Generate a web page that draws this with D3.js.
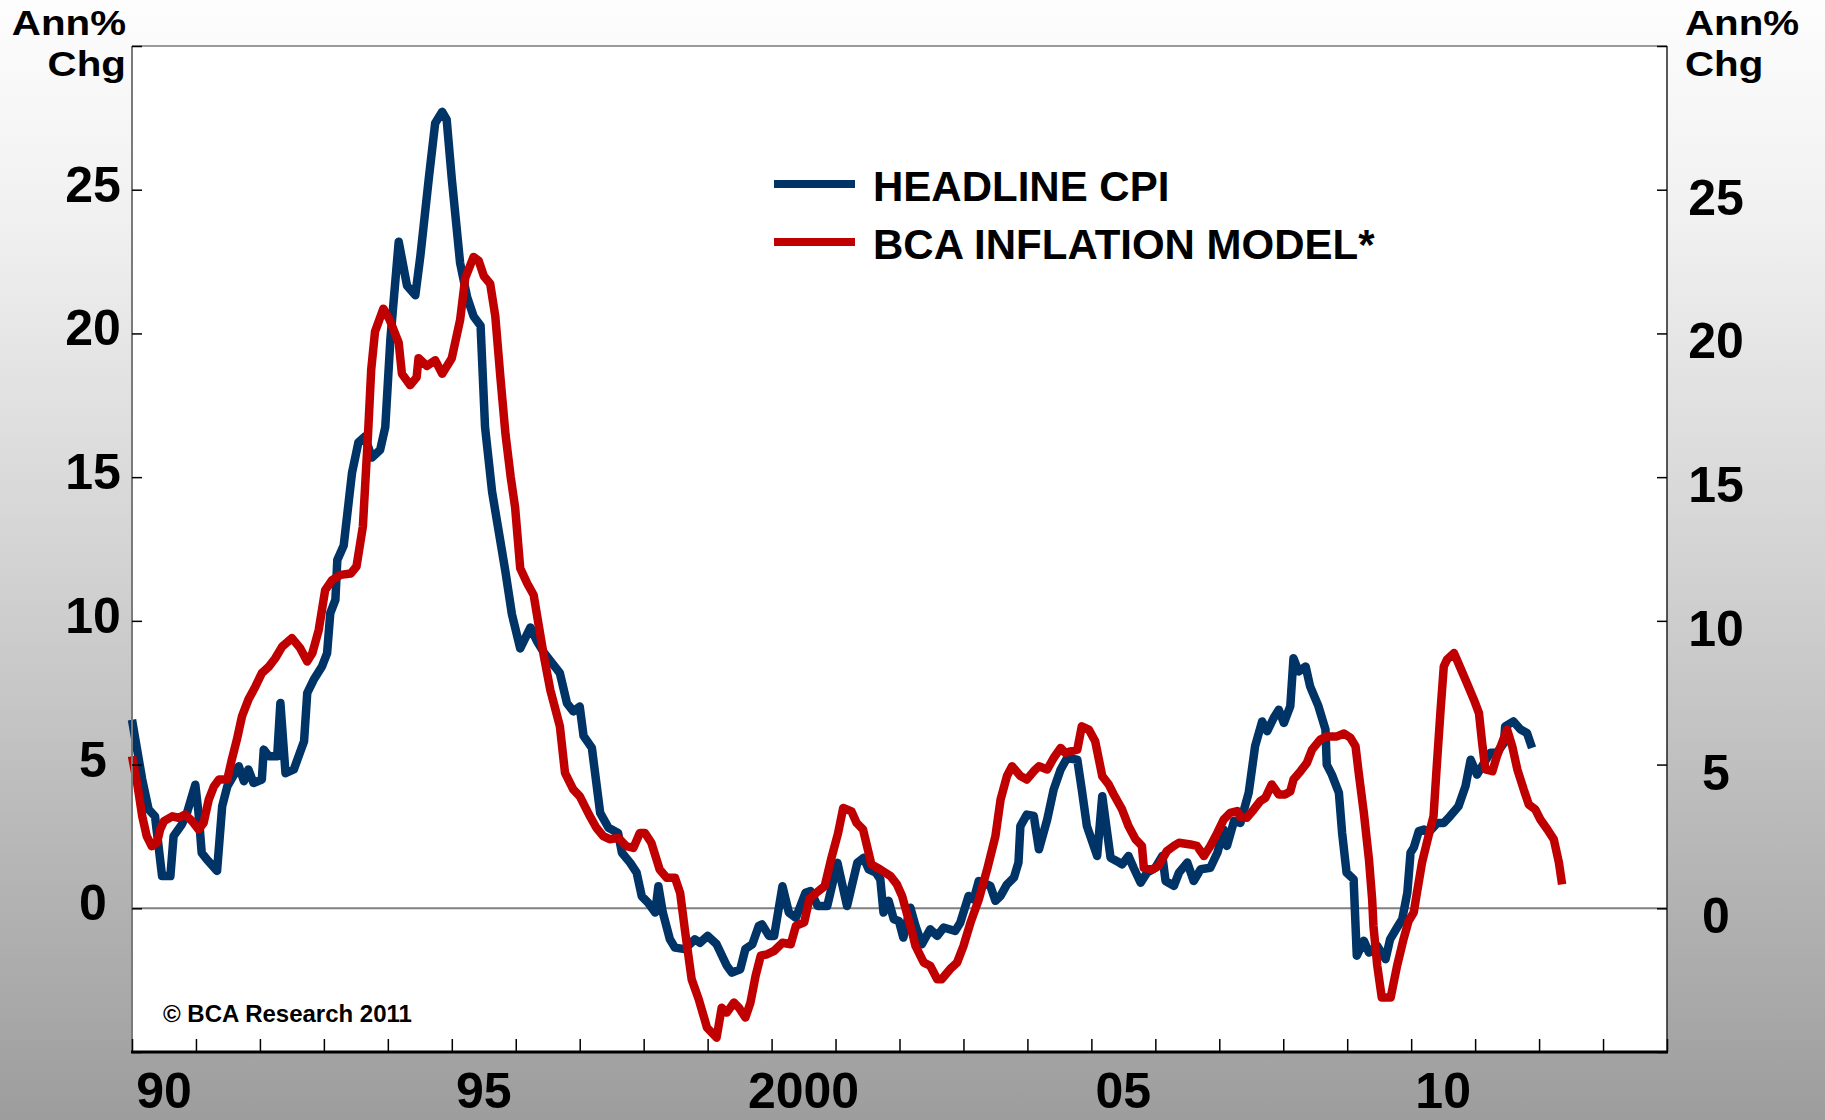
<!DOCTYPE html>
<html>
<head>
<meta charset="utf-8">
<script src="https://cdn.jsdelivr.net/npm/d3@7"></script>
<style>
  html, body { margin: 0; padding: 0; background: #ffffff; }
  svg text { font-family: "Liberation Sans", Arial, Helvetica, sans-serif; font-weight: bold; fill: #000; }
</style>
</head>
<body>
<svg id="chart" width="1825" height="1120"></svg>
<script>
// ---- DATA ----
// Headline CPI, annual % change: [decimal year, value]
const headlineCPI = [
  [1990.00,6.56],[1990.16,4.48],[1990.26,3.44],[1990.36,3.20],[1990.47,1.12],[1990.60,1.12],[1990.65,2.51],
  [1990.78,2.92],[1990.86,3.32],[1990.99,4.30],[1991.04,3.32],[1991.09,1.93],[1991.17,1.70],[1991.33,1.30],
  [1991.41,3.55],[1991.49,4.24],[1991.67,4.94],[1991.75,4.42],[1991.82,4.83],[1991.90,4.36],[1992.03,4.48],
  [1992.06,5.52],[1992.14,5.29],[1992.27,5.29],[1992.32,7.14],[1992.40,4.70],[1992.53,4.83],[1992.69,5.81],
  [1992.74,7.49],[1992.84,7.95],[1992.97,8.41],[1993.05,8.87],[1993.10,10.27],[1993.18,10.73],[1993.21,12.12],
  [1993.31,12.62],[1993.44,15.15],[1993.54,16.21],[1993.64,16.41],[1993.75,15.68],[1993.88,15.95],[1993.96,16.74],
  [1994.04,19.80],[1994.17,23.19],[1994.30,21.66],[1994.43,21.33],[1994.51,22.72],[1994.64,25.38],[1994.74,27.31],
  [1994.85,27.71],[1994.92,27.44],[1995.00,25.38],[1995.13,22.45],[1995.24,21.26],[1995.34,20.60],[1995.45,20.27],
  [1995.52,16.74],[1995.63,14.49],[1995.73,13.16],[1995.84,11.69],[1995.94,10.23],[1996.07,9.04],[1996.23,9.77],
  [1996.33,9.30],[1996.44,8.90],[1996.69,8.18],[1996.80,7.14],[1996.90,6.85],[1997.00,7.02],[1997.06,6.00],
  [1997.19,5.58],[1997.32,3.32],[1997.45,2.80],[1997.60,2.62],[1997.66,1.93],[1997.79,1.58],[1997.89,1.24],
  [1997.97,0.42],[1998.07,0.19],[1998.18,-0.15],[1998.23,0.77],[1998.30,-0.15],[1998.41,-1.08],[1998.49,-1.37],
  [1998.64,-1.42],[1998.80,-1.08],[1998.88,-1.20],[1999.00,-0.96],[1999.14,-1.25],[1999.30,-2.00],[1999.38,-2.24],
  [1999.51,-2.12],[1999.59,-1.42],[1999.70,-1.25],[1999.80,-0.61],[1999.85,-0.56],[1999.96,-0.96],[2000.04,-0.96],
  [2000.17,0.77],[2000.27,-0.15],[2000.38,-0.33],[2000.53,0.54],[2000.61,0.60],[2000.72,0.08],[2000.87,0.08],
  [2001.03,1.58],[2001.18,0.08],[2001.34,1.58],[2001.44,1.76],[2001.52,1.35],[2001.63,1.24],[2001.70,1.01],
  [2001.75,-0.15],[2001.83,0.26],[2001.91,-0.38],[2001.99,-0.44],[2002.06,-1.02],[2002.17,0.02],[2002.25,-0.61],
  [2002.35,-1.25],[2002.48,-0.73],[2002.59,-0.96],[2002.69,-0.67],[2002.87,-0.79],[2002.95,-0.50],[2003.08,0.43],
  [2003.16,0.31],[2003.24,0.95],[2003.42,0.78],[2003.50,0.26],[2003.58,0.43],[2003.68,0.83],[2003.79,1.07],
  [2003.86,1.59],[2003.89,2.86],[2003.99,3.26],[2004.10,3.21],[2004.18,2.05],[2004.31,3.09],[2004.41,4.13],
  [2004.52,4.83],[2004.62,5.23],[2004.78,5.17],[2004.85,4.13],[2004.93,2.86],[2005.09,1.82],[2005.17,3.90],
  [2005.30,1.76],[2005.40,1.64],[2005.48,1.53],[2005.58,1.82],[2005.66,1.41],[2005.77,0.89],[2005.87,1.24],
  [2006.00,1.41],[2006.11,1.82],[2006.16,0.95],[2006.29,0.78],[2006.37,1.24],[2006.50,1.59],[2006.60,0.95],
  [2006.71,1.36],[2006.86,1.41],[2006.97,1.93],[2007.07,2.74],[2007.12,2.17],[2007.23,3.03],[2007.33,2.97],
  [2007.46,4.02],[2007.56,5.64],[2007.67,6.50],[2007.75,6.16],[2007.85,6.62],[2007.93,6.91],[2008.01,6.45],
  [2008.11,7.03],[2008.16,8.70],[2008.24,8.24],[2008.35,8.41],[2008.42,7.72],[2008.55,7.03],[2008.66,6.22],
  [2008.68,5.00],[2008.76,4.65],[2008.87,4.02],[2008.92,2.63],[2008.99,1.24],[2009.10,1.01],[2009.15,-1.65],
  [2009.26,-1.13],[2009.34,-1.54],[2009.47,-1.31],[2009.60,-1.77],[2009.67,-1.08],[2009.78,-0.67],[2009.86,-0.38],
  [2009.94,0.54],[2009.99,1.93],[2010.04,2.11],[2010.12,2.69],[2010.20,2.74],[2010.27,2.63],[2010.41,2.97],
  [2010.51,2.97],[2010.61,3.21],[2010.74,3.55],[2010.85,4.25],[2010.93,5.17],[2011.03,4.65],[2011.14,5.06],
  [2011.24,5.41],[2011.34,5.41],[2011.45,5.75],[2011.47,6.33],[2011.60,6.50],[2011.71,6.22],[2011.81,6.10],
  [2011.89,5.58]
];

// BCA inflation model: [decimal year, value]
const bcaModel = [
  [1990.00,5.29],[1990.08,4.36],[1990.16,3.20],[1990.23,2.51],[1990.31,2.16],[1990.39,2.28],[1990.44,2.74],
  [1990.50,3.03],[1990.63,3.20],[1990.73,3.15],[1990.83,3.26],[1990.94,3.03],[1991.04,2.74],[1991.12,2.97],
  [1991.20,3.78],[1991.28,4.24],[1991.36,4.48],[1991.49,4.48],[1991.56,5.17],[1991.64,5.87],[1991.72,6.68],
  [1991.82,7.26],[1991.93,7.72],[1992.03,8.18],[1992.14,8.41],[1992.24,8.70],[1992.35,9.11],[1992.50,9.40],
  [1992.63,9.05],[1992.74,8.59],[1992.82,8.88],[1992.92,9.69],[1993.02,11.07],[1993.13,11.42],[1993.26,11.60],
  [1993.42,11.65],[1993.51,11.89],[1993.61,13.29],[1993.69,16.48],[1993.74,18.74],[1993.80,20.07],[1993.93,20.86],
  [1994.03,20.47],[1994.17,19.67],[1994.22,18.60],[1994.35,18.20],[1994.45,18.47],[1994.48,19.14],[1994.61,18.87],
  [1994.74,19.07],[1994.85,18.60],[1995.00,19.14],[1995.13,20.47],[1995.21,21.93],[1995.34,22.66],[1995.42,22.53],
  [1995.50,22.00],[1995.60,21.73],[1995.68,20.60],[1995.76,18.47],[1995.84,16.48],[1995.92,15.02],[1995.99,13.95],
  [1996.07,11.83],[1996.18,11.30],[1996.28,10.90],[1996.36,9.83],[1996.44,8.77],[1996.54,7.60],[1996.69,6.33],
  [1996.77,4.71],[1996.90,4.13],[1997.00,3.90],[1997.16,3.20],[1997.26,2.80],[1997.37,2.51],[1997.47,2.40],
  [1997.60,2.45],[1997.73,2.16],[1997.84,2.10],[1997.94,2.62],[1998.02,2.62],[1998.12,2.28],[1998.25,1.35],
  [1998.36,1.06],[1998.49,1.06],[1998.57,0.54],[1998.65,-0.84],[1998.75,-2.47],[1998.86,-3.16],[1998.99,-4.15],
  [1999.14,-4.50],[1999.22,-3.46],[1999.30,-3.63],[1999.41,-3.28],[1999.49,-3.46],[1999.59,-3.80],[1999.67,-3.28],
  [1999.75,-2.35],[1999.83,-1.65],[1999.93,-1.60],[2000.04,-1.48],[2000.17,-1.20],[2000.30,-1.25],[2000.38,-0.61],
  [2000.51,-0.49],[2000.59,0.32],[2000.70,0.54],[2000.83,0.77],[2000.93,1.70],[2001.04,2.62],[2001.12,3.49],
  [2001.25,3.37],[2001.33,2.97],[2001.43,2.74],[2001.56,1.53],[2001.70,1.35],[2001.86,1.12],[2001.96,0.83],
  [2002.04,0.43],[2002.14,-0.38],[2002.20,-0.85],[2002.25,-1.31],[2002.38,-1.89],[2002.48,-2.00],[2002.59,-2.47],
  [2002.66,-2.47],[2002.79,-2.12],[2002.90,-1.89],[2003.00,-1.31],[2003.11,-0.50],[2003.24,0.31],[2003.37,1.35],
  [2003.50,2.51],[2003.58,3.78],[2003.68,4.60],[2003.76,4.94],[2003.89,4.60],[2003.99,4.48],[2004.10,4.77],
  [2004.18,4.94],[2004.31,4.83],[2004.41,5.23],[2004.52,5.58],[2004.59,5.41],[2004.78,5.52],[2004.85,6.33],
  [2004.96,6.22],[2005.06,5.81],[2005.17,4.60],[2005.27,4.31],[2005.35,3.96],[2005.48,3.44],[2005.58,2.86],
  [2005.69,2.40],[2005.79,2.17],[2005.82,1.41],[2005.95,1.35],[2006.05,1.47],[2006.18,1.99],[2006.29,2.17],
  [2006.37,2.28],[2006.55,2.22],[2006.65,2.17],[2006.76,1.82],[2006.86,2.17],[2006.97,2.63],[2007.07,3.09],
  [2007.17,3.32],[2007.28,3.38],[2007.33,3.18],[2007.43,3.15],[2007.54,3.44],[2007.64,3.73],[2007.72,3.84],
  [2007.82,4.31],[2007.93,3.96],[2008.03,3.96],[2008.11,4.07],[2008.16,4.48],[2008.27,4.77],[2008.37,5.06],
  [2008.45,5.52],[2008.58,5.87],[2008.68,5.98],[2008.84,5.98],[2008.95,6.08],[2009.05,5.93],[2009.13,5.64],
  [2009.18,4.71],[2009.26,3.32],[2009.34,1.70],[2009.39,0.31],[2009.41,-0.61],[2009.47,-2.00],[2009.54,-3.10],
  [2009.68,-3.10],[2009.78,-2.00],[2009.88,-1.08],[2009.96,-0.44],[2010.04,-0.15],[2010.09,0.54],[2010.17,1.59],
  [2010.27,2.51],[2010.35,3.21],[2010.40,4.94],[2010.46,6.91],[2010.51,8.41],[2010.56,8.65],[2010.67,8.88],
  [2010.77,8.36],[2010.87,7.84],[2010.98,7.26],[2011.06,6.79],[2011.11,5.75],[2011.16,4.83],[2011.27,4.77],
  [2011.34,5.29],[2011.42,5.75],[2011.50,6.22],[2011.58,5.64],[2011.66,4.83],[2011.76,4.13],[2011.84,3.61],
  [2011.94,3.44],[2012.02,3.09],[2012.13,2.74],[2012.23,2.40],[2012.31,1.59],[2012.36,0.83]
];

const seriesNames = ["HEADLINE CPI", "BCA INFLATION MODEL*"];
const yTickValues = [-5, 0, 5, 10, 15, 20, 25, 30];
const yTickLabels = [0, 5, 10, 15, 20, 25];
const xTickYears = d3.range(1990, 2015);
const xLabelYears = [1990, 1995, 2000, 2005, 2010];
const xLabelText = ["90", "95", "2000", "05", "10"];
const axisTitle = ["Ann%", "Chg"];
const sourceNote = "\u00A9 BCA Research 2011";

// ---- LAYOUT ----
const W = 1825, H = 1120;
const plot = { left: 132, right: 1667, top: 46, bottom: 1052 };
const colors = { cpi: "#003366", model: "#c00000" };

const svg = d3.select("#chart");

// background gradient
const defs = svg.append("defs");
const grad = defs.append("linearGradient").attr("id", "bg").attr("x1", 0).attr("y1", 0).attr("x2", 0).attr("y2", 1);
[[0, "#fdfdfd"], [0.2, "#f0f0f0"], [0.5, "#d3d3d3"], [1, "#9d9d9d"]].forEach(([o, c]) =>
  grad.append("stop").attr("offset", o).attr("stop-color", c));
svg.append("rect").attr("width", W).attr("height", H).attr("fill", "url(#bg)");

const x = d3.scaleLinear().domain([1990, 2014]).range([plot.left, plot.right]);
const y = d3.scaleLinear().domain([-5, 30]).range([plot.bottom, plot.top]);

// plot area
svg.append("rect")
  .attr("x", plot.left).attr("y", plot.top)
  .attr("width", plot.right - plot.left).attr("height", plot.bottom - plot.top)
  .attr("fill", "#ffffff");

// zero line
svg.append("line")
  .attr("x1", plot.left).attr("x2", plot.right)
  .attr("y1", y(0)).attr("y2", y(0))
  .attr("stroke", "#808080").attr("stroke-width", 2);

// lines
const line = d3.line().x(d => x(d[0])).y(d => y(d[1]));
svg.append("path").datum(headlineCPI)
  .attr("d", line).attr("fill", "none")
  .attr("stroke", colors.cpi).attr("stroke-width", 8.5)
  .attr("stroke-linejoin", "round").attr("stroke-linecap", "butt");
svg.append("path").datum(bcaModel)
  .attr("d", line).attr("fill", "none")
  .attr("stroke", colors.model).attr("stroke-width", 8.5)
  .attr("stroke-linejoin", "round").attr("stroke-linecap", "butt");

// frame
svg.append("line").attr("x1", plot.left).attr("x2", plot.right).attr("y1", plot.top).attr("y2", plot.top)
  .attr("stroke", "#7a7a7a").attr("stroke-width", 1.5);
svg.append("line").attr("x1", plot.left).attr("x2", plot.left).attr("y1", plot.top).attr("y2", plot.bottom)
  .attr("stroke", "#7a7a7a").attr("stroke-width", 2);
svg.append("line").attr("x1", plot.right).attr("x2", plot.right).attr("y1", plot.top).attr("y2", plot.bottom)
  .attr("stroke", "#222").attr("stroke-width", 1.5);

// axes with inward ticks
const leftAxis = d3.axisRight(y).tickValues(yTickValues).tickSize(10).tickFormat("");
const gl = svg.append("g").attr("transform", `translate(${plot.left},0)`).call(leftAxis);
gl.select(".domain").remove();
gl.selectAll(".tick line").attr("stroke", "#000").attr("stroke-width", 1.5);

const rightAxis = d3.axisLeft(y).tickValues(yTickValues).tickSize(10).tickFormat("");
const gr = svg.append("g").attr("transform", `translate(${plot.right},0)`).call(rightAxis);
gr.select(".domain").remove();
gr.selectAll(".tick line").attr("stroke", "#000").attr("stroke-width", 1.5);

const bottomAxis = d3.axisTop(x).tickValues(xTickYears).tickSize(13).tickFormat("");
const gb = svg.append("g").attr("transform", `translate(0,${plot.bottom})`).call(bottomAxis);
gb.select(".domain").remove();
gb.selectAll(".tick line").attr("stroke", "#000").attr("stroke-width", 1.5);
svg.append("line").attr("x1", plot.left - 1).attr("x2", plot.right + 1).attr("y1", plot.bottom).attr("y2", plot.bottom)
  .attr("stroke", "#000").attr("stroke-width", 3);

// y labels
svg.append("g").selectAll("text").data(yTickLabels).join("text")
  .attr("x", 93).attr("y", d => y(d) + 12)
  .attr("text-anchor", "middle").attr("font-size", 50).text(d => d);
svg.append("g").selectAll("text").data(yTickLabels).join("text")
  .attr("x", 1716).attr("y", d => y(d) + 25)
  .attr("text-anchor", "middle").attr("font-size", 50).text(d => d);

// x labels (centred in the year interval)
svg.append("g").selectAll("text").data(xLabelYears).join("text")
  .attr("x", d => x(d + 0.5)).attr("y", 1108)
  .attr("text-anchor", "middle").attr("font-size", 50)
  .text((d, i) => xLabelText[i]);

// axis titles: two stacked lines, slightly widened
[[126, "end"], [1685, "start"]].forEach(([tx, anchor]) => {
  const g = svg.append("g").attr("transform", `translate(${tx},0) scale(1.12,1)`);
  g.append("text").attr("x", 0).attr("y", 35).attr("text-anchor", anchor).attr("font-size", 36).text(axisTitle[0]);
  g.append("text").attr("x", 0).attr("y", 76).attr("text-anchor", anchor).attr("font-size", 36).text(axisTitle[1]);
});

// legend
const legend = svg.append("g");
const legendRows = [
  { name: seriesNames[0], color: colors.cpi, ly: 184, ty: 201 },
  { name: seriesNames[1], color: colors.model, ly: 242, ty: 259 }
];
legendRows.forEach(r => {
  legend.append("line").attr("x1", 774).attr("x2", 855).attr("y1", r.ly).attr("y2", r.ly)
    .attr("stroke", r.color).attr("stroke-width", 8);
  legend.append("text").attr("x", 873).attr("y", r.ty).attr("font-size", 42).text(r.name);
});

// source note
svg.append("text").attr("x", 163).attr("y", 1022).attr("font-size", 24).text(sourceNote);
</script>
</body>
</html>
